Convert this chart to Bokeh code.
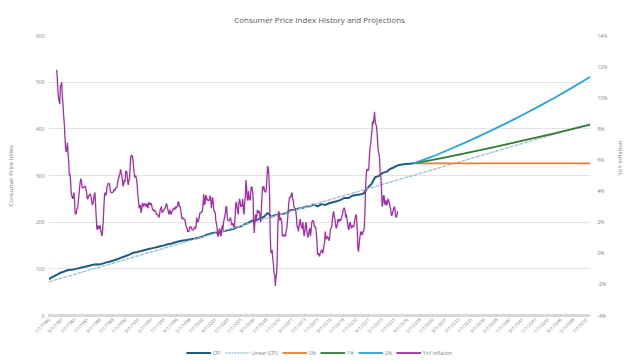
from math import pi
from bokeh.plotting import figure
from bokeh.layouts import column
from bokeh.models import (Range1d, LinearAxis, FixedTicker, PrintfTickFormatter,
                          Legend, LegendItem)
from bokeh.embed import file_html
from bokeh.resources import INLINE

# ---------------- data ----------------
# CPI (semi-annual readings, Jan / Jul), starting Jan 1980
cpi_start = 1980.0
cpi_values = [
    77.8, 82.7, 87.0, 91.6, 94.3, 97.5, 97.8, 99.9, 101.9, 104.1,
    105.5, 107.8, 109.6, 109.5, 111.2, 113.8, 115.7, 118.5, 121.1, 124.4,
    127.4, 130.4, 134.6, 136.2, 138.1, 140.5, 142.6, 144.4, 146.2, 148.4,
    150.3, 152.5, 154.4, 157.0, 159.1, 160.5, 161.6, 163.2, 164.3, 166.7,
    168.8, 172.8, 175.1, 177.5, 177.1, 180.1, 181.7, 183.9, 185.2, 189.4,
    190.7, 195.4, 198.3, 203.5, 202.4, 208.3, 211.1, 220.0, 211.1, 215.4,
    216.7, 218.0, 220.2, 225.9, 226.7, 229.1, 230.3, 233.6, 233.9, 238.3,
    233.7, 238.7, 236.9, 240.6, 242.8, 244.8, 247.9, 252.0, 251.7, 256.6,
    258.0, 259.1, 261.6, 273.0, 281.1, 296.3, 299.2, 305.7, 308.4, 314.5,
    317.7, 322.1, 323.4, 324.4, 325.3, 326.0,
]

# YoY inflation (%), monthly from Jan 1981
yoy_start = 1981.0
yoy_pct = [
    11.8, 11.4, 10.5, 10.0, 9.8, 9.6, 10.8, 10.8, 11.0, 10.1, 9.6, 8.9,
    8.4, 7.6, 6.8, 6.5, 6.7, 7.1, 6.4, 5.9, 5.0, 5.1, 4.6, 3.8,
    3.7, 3.5, 3.6, 3.9, 3.5, 2.6, 2.5, 2.6, 2.9, 2.9, 3.3, 3.8,
    4.2, 4.6, 4.8, 4.6, 4.2, 4.2, 4.2, 4.3, 4.3, 4.3, 4.1, 3.9,
    3.5, 3.5, 3.7, 3.7, 3.8, 3.8, 3.6, 3.3, 3.1, 3.2, 3.5, 3.8,
    3.9, 3.1, 2.3, 1.6, 1.5, 1.8, 1.6, 1.6, 1.8, 1.5, 1.3, 1.1,
    1.5, 2.1, 3.0, 3.8, 3.9, 3.7, 3.9, 4.3, 4.4, 4.5, 4.5, 4.4,
    4.0, 3.9, 3.9, 3.9, 3.9, 4.0, 4.1, 4.0, 4.2, 4.2, 4.2, 4.4,
    4.7, 4.8, 5.0, 5.1, 5.4, 5.2, 5.0, 4.7, 4.3, 4.5, 4.7, 4.6,
    5.2, 5.3, 5.2, 4.7, 4.4, 4.7, 4.8, 5.6, 6.2, 6.3, 6.3, 6.1,
    5.7, 5.3, 4.9, 4.9, 5.0, 4.7, 4.4, 3.8, 3.4, 2.9, 3.0, 3.1,
    2.6, 2.8, 3.2, 3.2, 3.0, 3.1, 3.2, 3.1, 3.0, 3.2, 3.0, 2.9,
    3.3, 3.2, 3.1, 3.2, 3.2, 3.0, 2.8, 2.8, 2.7, 2.8, 2.7, 2.7,
    2.5, 2.5, 2.5, 2.4, 2.3, 2.5, 2.8, 2.9, 3.0, 2.6, 2.7, 2.7,
    2.8, 2.9, 2.9, 3.1, 3.2, 3.0, 2.8, 2.6, 2.5, 2.8, 2.6, 2.5,
    2.7, 2.7, 2.8, 2.9, 2.9, 2.8, 3.0, 2.9, 3.0, 3.0, 3.3, 3.3,
    3.0, 3.0, 2.8, 2.5, 2.2, 2.3, 2.2, 2.2, 2.2, 2.1, 1.8, 1.7,
    1.6, 1.4, 1.4, 1.4, 1.7, 1.7, 1.7, 1.6, 1.5, 1.5, 1.5, 1.6,
    1.7, 1.6, 1.7, 2.3, 2.1, 2.0, 2.1, 2.3, 2.6, 2.6, 2.6, 2.7,
    2.7, 3.2, 3.8, 3.1, 3.2, 3.7, 3.7, 3.4, 3.5, 3.4, 3.4, 3.4,
    3.7, 3.5, 2.9, 3.3, 3.6, 3.2, 2.7, 2.7, 2.6, 2.1, 1.9, 1.6,
    1.1, 1.1, 1.5, 1.6, 1.2, 1.1, 1.5, 1.8, 1.5, 2.0, 2.2, 2.4,
    2.6, 3.0, 3.0, 2.2, 2.1, 2.1, 2.1, 2.2, 2.3, 2.0, 1.8, 1.9,
    1.9, 1.7, 1.7, 2.3, 3.1, 3.3, 3.0, 2.7, 2.5, 3.2, 3.5, 3.3,
    3.0, 3.0, 3.1, 3.5, 2.8, 2.5, 3.2, 3.6, 4.7, 4.3, 3.5, 3.4,
    4.0, 3.6, 3.4, 3.5, 4.2, 4.3, 4.1, 3.8, 2.1, 1.3, 2.0, 2.5,
    2.1, 2.4, 2.8, 2.6, 2.7, 2.7, 2.4, 2.0, 2.8, 3.5, 4.3, 4.1,
    4.3, 4.0, 4.0, 3.9, 4.2, 5.0, 5.6, 5.4, 4.9, 3.7, 1.1, 0.1,
    0.0, 0.2, -0.4, -0.7, -1.3, -1.4, -2.1, -1.5, -1.3, -0.2, 1.8, 2.7,
    2.6, 2.1, 2.3, 2.2, 2.0, 1.1, 1.2, 1.1, 1.1, 1.2, 1.1, 1.5,
    1.6, 2.1, 2.7, 3.2, 3.6, 3.6, 3.6, 3.8, 3.9, 3.5, 3.4, 3.0,
    2.9, 2.9, 2.7, 2.3, 1.7, 1.7, 1.4, 1.7, 2.0, 2.2, 1.8, 1.7,
    1.6, 2.0, 1.5, 1.1, 1.4, 1.8, 2.0, 1.5, 1.2, 1.0, 1.2, 1.5,
    1.6, 1.1, 1.5, 2.0, 2.1, 2.1, 2.0, 1.7, 1.7, 1.7, 1.3, 0.8,
    -0.1, 0.0, -0.1, -0.2, 0.0, 0.1, 0.2, 0.2, 0.0, 0.2, 0.5, 0.7,
    1.4, 1.0, 0.9, 1.1, 1.0, 1.0, 0.8, 1.1, 1.5, 1.6, 1.7, 2.1,
    2.5, 2.7, 2.4, 2.2, 1.9, 1.6, 1.7, 1.9, 2.2, 2.0, 2.2, 2.1,
    2.1, 2.2, 2.4, 2.5, 2.8, 2.9, 2.9, 2.7, 2.3, 2.5, 2.2, 1.9,
    1.6, 1.5, 1.9, 2.0, 1.8, 1.6, 1.8, 1.7, 1.7, 1.8, 2.1, 2.3,
    2.5, 2.3, 1.5, 0.3, 0.1, 0.6, 1.0, 1.3, 1.4, 1.2, 1.2, 1.4,
    1.4, 1.7, 2.6, 4.2, 5.0, 5.4, 5.4, 5.3, 5.4, 6.2, 6.8, 7.0,
    7.5, 7.9, 8.5, 8.3, 8.6, 9.1, 8.5, 8.3, 8.2, 7.7, 7.1, 6.5,
    6.4, 6.0, 5.0, 4.9, 4.0, 3.0, 3.2, 3.7, 3.7, 3.2, 3.1, 3.4,
    3.1, 3.2, 3.5, 3.4, 3.3, 3.0, 2.9, 2.5, 2.4, 2.6, 2.7, 2.9,
    3.0, 2.8, 2.4, 2.3, 2.4, 2.7,
]

# Linear trend of CPI (two end points)
trend_years = [1980.0, 2050.5]
trend_values = [72.0, 411.0]

# Projections
proj_years = [2027.5, 2030, 2032, 2034, 2036, 2038, 2040, 2042, 2044,
              2046, 2048, 2050, 2050.5]
proj_0 = [326.0, 326.0, 326.0, 326.0, 326.0, 326.0, 326.0, 326.0, 326.0,
          326.0, 326.0, 326.0, 326.0]
proj_1 = [326.0, 333.4, 340.1, 346.9, 353.9, 361.0, 368.2, 375.6, 383.2,
          390.9, 398.7, 406.7, 408.7]
proj_2 = [326.0, 340.8, 354.6, 368.9, 383.8, 399.3, 415.4, 432.2, 449.7,
          467.8, 486.7, 506.4, 511.4]

# axis ticks
x_tick_pos = [1980 + 20 * k / 12 for k in range(43)]
x_tick_labels = [
    "1/1/1980", "9/1/1981", "5/1/1983", "1/1/1985", "9/1/1986", "5/1/1988",
    "1/1/1990", "9/1/1991", "5/1/1993", "1/1/1995", "9/1/1996", "5/1/1998",
    "1/1/2000", "9/1/2001", "5/1/2003", "1/1/2005", "9/1/2006", "5/1/2008",
    "1/1/2010", "9/1/2011", "5/1/2013", "1/1/2015", "9/1/2016", "5/1/2018",
    "1/1/2020", "9/1/2021", "5/1/2023", "1/1/2025", "9/1/2026", "5/1/2028",
    "1/1/2030", "9/1/2031", "5/1/2033", "1/1/2035", "9/1/2036", "5/1/2038",
    "1/1/2040", "9/1/2041", "5/1/2043", "1/1/2045", "9/1/2046", "5/1/2048",
    "1/1/2050",
]
left_ticks = [0, 100, 200, 300, 400, 500, 600]
right_ticks = [-4, -2, 0, 2, 4, 6, 8, 10, 12, 14]
legend_labels = ["CPI", "Linear (CPI)", "0%", "1%", "2%", "YoY Inflation"]

# ---------------- styling ----------------
FONT = "Open Sans"
TXT = "#595959"
TICK_TXT = "#7f7f7f"
C_CPI, C_LIN, C_P0, C_P1, C_P2, C_YOY = ("#1f5c84", "#9dbfd5", "#ed7d31",
                                          "#2e7d32", "#26a4dc", "#a22ea6")

cpi_x = [cpi_start + 0.5 * i for i in range(len(cpi_values))]
yoy_x = [yoy_start + i / 12 for i in range(len(yoy_pct))]

p = figure(width=640, height=345, output_backend="svg", toolbar_location=None,
           x_range=Range1d(1979.95, 2050.55), y_range=Range1d(0, 600),
           frame_width=542, frame_height=280,
           min_border_left=48, min_border_right=50, min_border_top=35,
           min_border_bottom=30)
p.extra_y_ranges = {"yoy": Range1d(-4, 14)}

p.title.text = "Consumer Price Index History and Projections"
p.title.align = "center"
p.title.text_font = FONT
p.title.text_font_size = "8px"
p.title.text_font_style = "normal"
p.title.text_color = TXT
p.title.standoff = 21
p.outline_line_color = None

p.xgrid.visible = False
p.ygrid.grid_line_color = "#e4e4e4"
p.ygrid.grid_line_width = 1
p.ygrid.ticker = FixedTicker(ticks=left_ticks)

# x axis
xa = p.xaxis[0]
xa.ticker = FixedTicker(ticks=x_tick_pos)
xa.major_label_overrides = {t: l for t, l in zip(x_tick_pos, x_tick_labels)}
xa.major_label_orientation = pi / 4
xa.major_label_text_font = FONT
xa.major_label_text_font_size = "4.5px"
xa.major_label_text_color = TICK_TXT
xa.axis_line_color = "#d9d9d9"
xa.axis_line_width = 3
xa.major_tick_line_color = "#c8c8c8"
xa.major_tick_in = 1
xa.major_tick_out = 1
xa.minor_tick_line_color = None
xa.major_label_standoff = 2

# left axis
ya = p.yaxis[0]
ya.ticker = FixedTicker(ticks=left_ticks)
ya.axis_label = "Consumer Price Index"
ya.axis_label_text_font = FONT
ya.axis_label_text_font_size = "6px"
ya.axis_label_text_font_style = "normal"
ya.axis_label_text_color = TICK_TXT
ya.axis_label_standoff = 18
ya.major_label_text_font = FONT
ya.major_label_text_font_size = "5px"
ya.major_label_text_color = TICK_TXT
ya.axis_line_color = None
ya.major_tick_line_color = None
ya.major_tick_in = 0
ya.major_tick_out = 0
ya.minor_tick_line_color = None
ya.major_label_standoff = 4

# right axis
ra = LinearAxis(y_range_name="yoy", ticker=FixedTicker(ticks=right_ticks),
                formatter=PrintfTickFormatter(format="%d%%"))
ra.axis_label = "YoY Inflation"
ra.axis_label_orientation = pi / 2
ra.axis_label_text_font = FONT
ra.axis_label_text_font_size = "6px"
ra.axis_label_text_font_style = "normal"
ra.axis_label_text_color = TICK_TXT
ra.axis_label_standoff = 10
ra.major_label_text_font = FONT
ra.major_label_text_font_size = "5px"
ra.major_label_text_color = TICK_TXT
ra.axis_line_color = None
ra.major_tick_line_color = None
ra.major_tick_in = 0
ra.major_tick_out = 0
ra.minor_tick_line_color = None
ra.major_label_standoff = 7
p.add_layout(ra, "right")

# ---------------- glyphs ----------------
p.line(cpi_x, cpi_values, line_color=C_CPI, line_width=2)
p.line(trend_years, trend_values, line_color=C_LIN, line_width=1.3,
       line_dash="4 1")
p.line(proj_years, proj_0, line_color=C_P0, line_width=1.8)
p.line(proj_years, proj_1, line_color=C_P1, line_width=1.8)
p.line(proj_years, proj_2, line_color=C_P2, line_width=1.8)
p.line(yoy_x, yoy_pct, line_color=C_YOY, line_width=1.3, y_range_name="yoy")

# ---------------- legend strip ----------------
lg = figure(width=640, height=15, output_backend="svg", toolbar_location=None,
            x_axis_type=None, y_axis_type=None, min_border=0,
            x_range=Range1d(0, 1), y_range=Range1d(0, 1))
lg.outline_line_color = None
lg.grid.visible = False
styles = [(C_CPI, 2, "solid"), (C_LIN, 1.3, "2 1"), (C_P0, 1.8, "solid"),
          (C_P1, 1.8, "solid"), (C_P2, 1.8, "solid"), (C_YOY, 1.8, "solid")]
items = []
for lab, (c, w, d) in zip(legend_labels, styles):
    # one off-screen point so that the legend swatch has a style to draw with
    r = lg.line([5], [5], line_color=c, line_width=w, line_dash=d)
    items.append(LegendItem(label=lab, renderers=[r]))
legend = Legend(items=items, orientation="horizontal", location="center")
legend.label_text_font = FONT
legend.label_text_font_size = "5px"
legend.label_text_color = TICK_TXT
legend.glyph_width = 25
legend.glyph_height = 5
legend.label_standoff = 2
legend.label_width = 0
legend.spacing = 4
legend.padding = 0
legend.margin = 0
legend.label_height = 5
legend.border_line_color = None
legend.background_fill_alpha = 0
lg.add_layout(legend)

layout = column(p, lg, spacing=0)
open("out.html", "w").write(file_html(layout, INLINE))
